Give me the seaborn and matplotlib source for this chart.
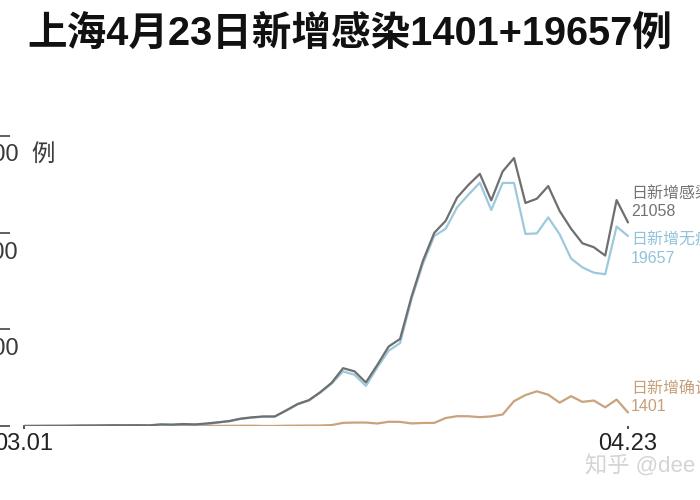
import pandas as pd
import matplotlib
matplotlib.use("Agg")
import matplotlib.pyplot as plt
import matplotlib.transforms as mtransforms
import seaborn as sns

# data: Shanghai daily new cases, 2022-03-01 .. 2022-04-23
dates = pd.date_range("2022-03-01", "2022-04-23", freq="D")
confirmed = [1, 3, 2, 3, 0, 3, 1, 3, 4, 11, 5, 1, 41, 9, 5, 8, 57, 8, 17, 24,
             31, 4, 4, 29, 38, 45, 50, 96, 326, 355, 358,
             260, 438, 425, 268, 311, 322, 824, 1015, 1006, 914, 994, 1189, 2573,
             3200, 3590, 3238, 2417, 3084, 2494, 2634, 1931, 2736, 1401]
asymptomatic = [1, 5, 14, 16, 28, 45, 51, 62, 76, 64, 78, 64, 128, 130, 197, 150,
                203, 366, 492, 734, 865, 977, 979, 1580, 2231, 2631, 3450, 4381,
                5656, 5298, 4144,
                6051, 7788, 8581, 13086, 16766, 19660, 20398, 22609, 23937, 25173,
                22348, 25141, 25146, 19872, 19923, 21582, 19831, 17332, 16407,
                15861, 15698, 20634, 19657]
infected = [2, 8, 16, 19, 28, 48, 52, 65, 80, 75, 83, 65, 169, 139, 202, 158,
            260, 374, 509, 758, 896, 981, 983, 1609, 2269, 2676, 3500, 4477,
            5982, 5653, 4502,
            6311, 8226, 9006, 13354, 17077, 19982, 21222, 23624, 24943, 26087,
            23342, 26330, 27719, 23072, 23513, 24820, 22248, 20416, 18901,
            18495, 17629, 23370, 21058]

series_names = ["日新增确诊", "日新增无症状", "日新增感染"]
series_values = [confirmed, asymptomatic, infected]
colors = ["#c9a27e", "#9ccadc", "#6f6f6f"]
label_colors = ["#c69f7a", "#8fc3d8", "#737373"]

y_ticks = [0, 10000, 20000, 30000]
y_ticklabels = ["0", "10000", "20000", "30000  例"]
x_ticks = [dates[0], dates[-1]]
x_ticklabels = ["03.01", "04.23"]
title = "上海4月23日新增感染1401+19657例"

sns.set_theme(style="white")
plt.rcParams["font.family"] = ["Liberation Sans", "Noto Sans CJK SC", "DejaVu Sans"]

W, H = 700, 500
fig = plt.figure(figsize=(7, 5), dpi=100)
fig.patch.set_facecolor("white")
ax = fig.add_axes([10 / W, (H - 426) / H, 620 / W, 290 / H])
ax.set_facecolor("white")

for name, vals, c in zip(series_names, series_values, colors):
    df = pd.DataFrame({"date": dates, "cases": vals})
    sns.lineplot(data=df, x="date", y="cases", color=c, linewidth=1.6, ax=ax)

# axes limits (Mar 1 sits ~14px right of the axes edge)
px_day = (628 - 24) / 53
ax.set_xlim(dates[0] - pd.Timedelta(days=14 / px_day),
            dates[-1] + pd.Timedelta(days=2 / px_day))
ax.set_ylim(0, 30000)
ax.set_xlabel("")
ax.set_ylabel("")
for s in ax.spines.values():
    s.set_visible(False)

# y ticks: short line at value, label hanging below it (left part runs off the canvas)
ax.set_yticks(y_ticks)
ax.set_yticklabels(y_ticklabels)
ax.tick_params(axis="y", left=True, direction="out", length=14, width=1.1,
               color="#333333", pad=26.8, labelsize=17, labelcolor="#3a3a3a")
shift = mtransforms.ScaledTranslation(0, -20 / 100, fig.dpi_scale_trans)
for lab in ax.get_yticklabels():
    lab.set_horizontalalignment("left")
    lab.set_verticalalignment("center")
    lab.set_transform(lab.get_transform() + shift)

ax.set_xticks(x_ticks)
ax.set_xticklabels(x_ticklabels)
ax.tick_params(axis="x", bottom=True, direction="out", length=2.5, width=1.2,
               color="#333333", pad=2.5, labelsize=17, labelcolor="#222222")
ax.grid(False)

# end labels
offsets = [(2, 10.5), (2, -9.5), (2, 14.5)]
for name, vals, c, (dx, dy) in zip(series_names, series_values, label_colors, offsets):
    ax.annotate(name, xy=(dates[-1], vals[-1]), xytext=(dx, dy + 6.5),
                textcoords="offset points", ha="left", va="center",
                fontsize=11.5, color=c, annotation_clip=False)
    ax.annotate(str(vals[-1]), xy=(dates[-1], vals[-1]), xytext=(dx, dy - 6.5),
                textcoords="offset points", ha="left", va="center",
                fontsize=11.5, color=c, annotation_clip=False)

fig.text(0.5, 1 - 34 / H, title, ha="center", va="center",
         fontsize=28.5, fontweight="bold", color="#111111")
fig.text(585 / W, 1 - 466 / H, "知乎 @dee", ha="left", va="center",
         fontsize=16, color="#d4d4d4")

fig.savefig("out.png", dpi=100)
